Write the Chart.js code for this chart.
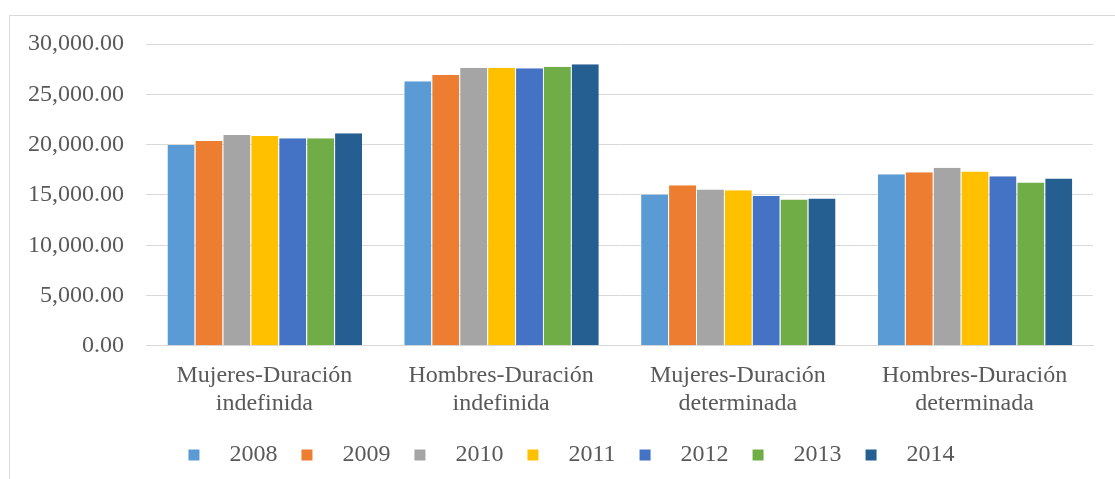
<!DOCTYPE html>
<html>
<head>
<meta charset="utf-8">
<script src="https://cdn.jsdelivr.net/npm/chart.js@4/dist/chart.umd.min.js"></script>
<style>
  html, body { margin: 0; padding: 0; background: #fff; }
  body { width: 1115px; height: 479px; overflow: hidden; position: relative; }
  #frame {
    position: absolute; left: 9px; top: 15px;
    width: 1110px; height: 470px;
    border-left: 1px solid #d9d9d9; border-top: 1px solid #d9d9d9;
  }
  #chart { position: absolute; left: 0; top: 0; display: block; }
</style>
</head>
<body>
<div id="frame"></div>
<canvas id="chart" width="1115" height="479"></canvas>
<script>
// categories and year series
var categories = [
  ["Mujeres-Duración", "indefinida"],
  ["Hombres-Duración", "indefinida"],
  ["Mujeres-Duración", "determinada"],
  ["Hombres-Duración", "determinada"]
];
var years = ["2008", "2009", "2010", "2011", "2012", "2013", "2014"];
var v2008 = [19950, 26300, 15030, 17050];
var v2009 = [20370, 26930, 15960, 17250];
var v2010 = [20960, 27650, 15530, 17710];
var v2011 = [20860, 27650, 15460, 17320];
var v2012 = [20630, 27590, 14900, 16850];
var v2013 = [20630, 27750, 14540, 16230];
var v2014 = [21130, 27990, 14640, 16620];
var yTicks = [0, 5000, 10000, 15000, 20000, 25000, 30000];

var series = [v2008, v2009, v2010, v2011, v2012, v2013, v2014];
var colors = ["#5B9BD5", "#ED7D31", "#A5A5A5", "#FFC000", "#4472C4", "#70AD47", "#255E91"];

var font = "'Liberation Serif', 'Times New Roman', serif";

// nudge the legend to the right, as in the original
var legendShift = {
  id: "legendShift",
  beforeDraw: function(chart) {
    var lg = chart.legend;
    if (!lg._base) lg._base = [lg.left, lg.right];
    lg.left = lg._base[0] + 28;
    lg.right = lg._base[1] + 28;
  }
};

new Chart(document.getElementById("chart"), {
  type: "bar",
  data: {
    labels: categories,
    datasets: years.map(function(y, i) {
      return {
        label: y,
        data: series[i],
        backgroundColor: colors[i],
        borderColor: "rgba(255,255,255,0.6)",
        borderWidth: { left: 1, right: 0, top: 0, bottom: 0 },
        categoryPercentage: 0.825,
        barPercentage: 1
      };
    })
  },
  plugins: [legendShift],
  options: {
    responsive: false,
    animation: false,
    layout: { padding: { left: 6, right: 22, top: 44, bottom: 2 } },
    plugins: {
      tooltip: { enabled: false },
      legend: {
        position: "bottom",
        labels: {
          color: "#595959",
          font: { family: font, size: 24 },
          boxWidth: 11,
          boxHeight: 11,
          padding: 12,
          generateLabels: function(chart) {
            return chart.data.datasets.map(function(ds, i) {
              return {
                text: "   " + ds.label + "  ",
                fillStyle: ds.backgroundColor,
                strokeStyle: ds.backgroundColor,
                lineWidth: 0,
                fontColor: "#595959",
                datasetIndex: i
              };
            });
          }
        }
      }
    },
    scales: {
      x: {
        grid: { display: false },
        border: { display: true, color: "#d9d9d9", width: 1 },
        afterFit: function(scale) { scale.height += 5; },
        ticks: {
          color: "#595959",
          font: { family: font, size: 24, lineHeight: 1.17 },
          padding: 8,
          maxRotation: 0
        }
      },
      y: {
        min: 0,
        max: 30000,
        afterBuildTicks: function(axis) {
          axis.ticks = yTicks.map(function(v) { return { value: v }; });
        },
        grid: { color: "#d9d9d9", lineWidth: 1, drawTicks: false },
        border: { display: false },
        ticks: {
          color: "#595959",
          font: { family: font, size: 24 },
          padding: 22,
          callback: function(v) {
            return Number(v).toLocaleString("en-US", { minimumFractionDigits: 2, maximumFractionDigits: 2 });
          }
        }
      }
    }
  }
});
</script>
</body>
</html>
